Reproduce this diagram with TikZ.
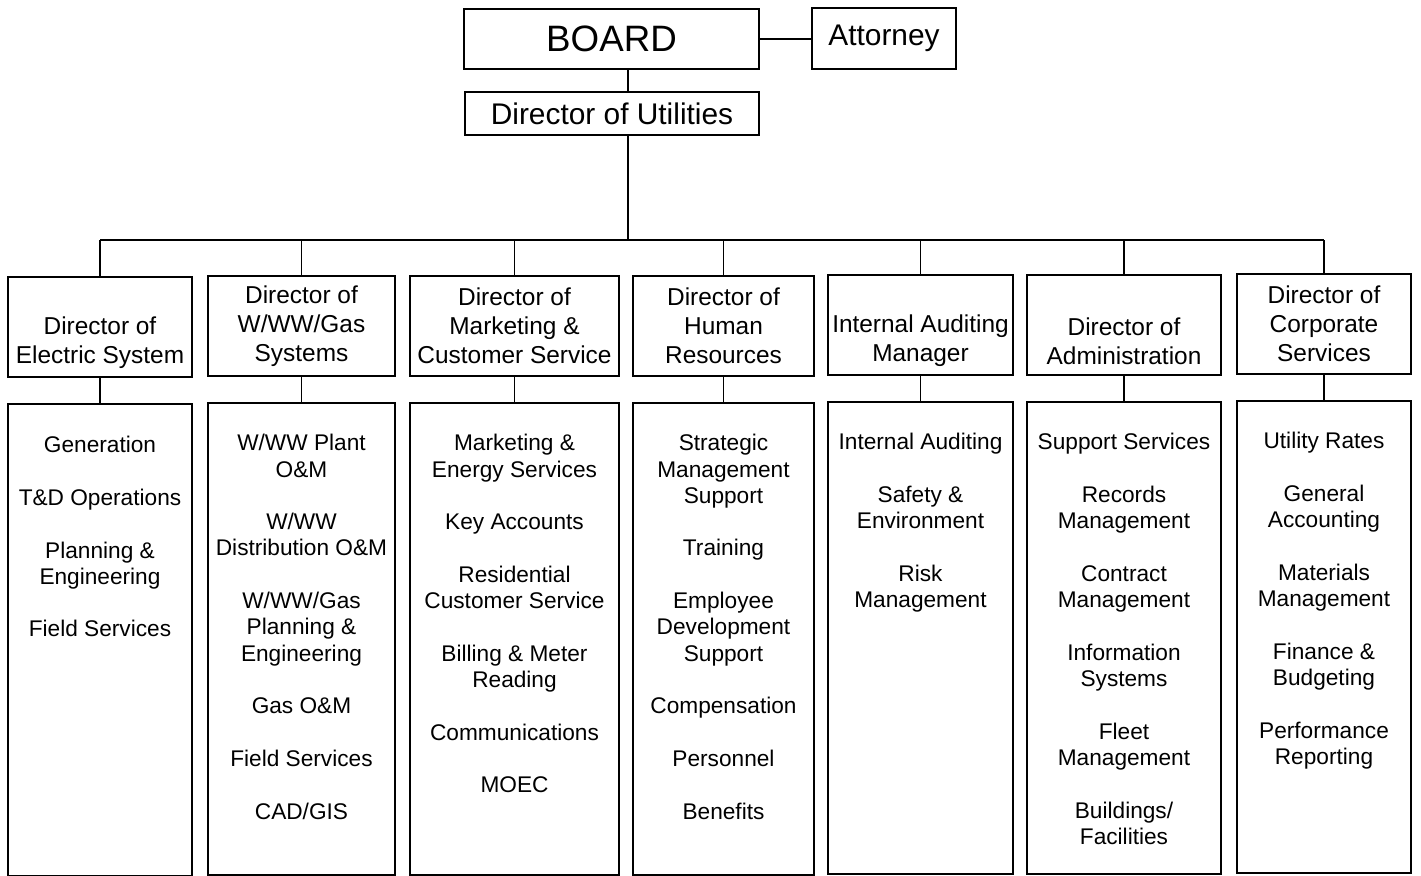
\documentclass[tikz,border=0pt]{standalone}
\usepackage{fontspec}
\setmainfont{Liberation Sans}
\usetikzlibrary{calc,positioning}

\tikzset{
  box/.style={draw, line width=1.1pt, inner sep=0pt, align=center},
  dirbox/.style={box, minimum height=2cm, font=\fontsize{13.9}{16.5}\selectfont},
  listbox/.style={draw, line width=1.1pt, inner sep=0pt, minimum height=9.44cm},
  listtext/.style={inner sep=0pt, align=center, font=\fontsize{12.9}{14.96}\selectfont},
  link/.style={line width=1.1pt}
}

\begin{document}
\begin{tikzpicture}[x=0.02cm,y=-0.02cm]
		\useasboundingbox (0,0) rectangle (1421,876);
		% top of the chart
		\node[box, minimum width=5.9cm, minimum height=1.2cm, font=\fontsize{20.9}{25}\selectfont] (board) at (611.5,39) {BOARD};
		\node[box, minimum width=2.88cm, minimum height=1.22cm, font=\fontsize{17}{20}\selectfont] (attorney) at (884,38.5) {Attorney};
		\node[box, minimum width=5.88cm, minimum height=0.86cm, font=\fontsize{17}{20}\selectfont] (utilities) at (612,113.5) {Director of Utilities};
		\coordinate (trunk) at (628,240);
		\draw[link] (board.east) -- (board.east -| attorney.west);
		\draw[link] (board.south -| trunk) -- (utilities.north -| trunk);
		\draw[link] (utilities.south -| trunk) -- (trunk);
		% directors
		\node[dirbox, minimum width=3.68cm] (elec) at (100,327) {\strut\\Director of\\Electric System};
		\node[dirbox, minimum width=3.74cm] (wwgas) at (301.5,326) {Director of\\W/WW/Gas\\Systems};
		\node[dirbox, minimum width=4.18cm] (mktg) at (514.5,326) {Director of\\Marketing \&\\Customer Service};
		\node[dirbox, minimum width=3.62cm] (hr) at (723.5,326) {Director of\\Human\\Resources};
		\node[dirbox, minimum width=3.7cm] (audit) at (920.5,325) {\strut\\Internal Auditing\\Manager};
		\node[dirbox, minimum width=3.88cm] (admin) at (1124,325) {\strut\\Director of\\Administration};
		\node[dirbox, minimum width=3.48cm] (corp) at (1324,324) {Director of\\Corporate\\Services};
		\draw[link] (elec |- trunk) -- (corp |- trunk);
		\foreach \d in {elec,wwgas,mktg,hr,audit,admin,corp}
			\draw[link] (\d.north) -- (\d |- trunk);
		% sections under each director
		\node[listbox, minimum width=3.68cm, below=0.5cm of elec] (elecl) {};
		\node[listbox, minimum width=3.74cm, below=0.5cm of wwgas] (wwgasl) {};
		\node[listbox, minimum width=4.18cm, below=0.5cm of mktg] (mktgl) {};
		\node[listbox, minimum width=3.62cm, below=0.5cm of hr] (hrl) {};
		\node[listbox, minimum width=3.7cm, below=0.5cm of audit] (auditl) {};
		\node[listbox, minimum width=3.88cm, below=0.5cm of admin] (adminl) {};
		\node[listbox, minimum width=3.48cm, below=0.5cm of corp] (corpl) {};
		\foreach \d in {elec,wwgas,mktg,hr,audit,admin,corp}
			\draw[link] (\d.south) -- (\d l.north);
		\node[listtext, below=0.66cm of elecl.north] (elect) {Generation\\[15pt]T\&D Operations\\[15pt]Planning \&\\Engineering\\[15pt]Field Services};
		\node[listtext, below=0.64cm of wwgasl.north] (wwgast) {W/WW Plant\\O\&M\\[15pt]W/WW\\Distribution O\&M\\[15pt]W/WW/Gas\\Planning \&\\Engineering\\[15pt]Gas O\&M\\[15pt]Field Services\\[15pt]CAD/GIS};
		\node[listtext, below=0.64cm of mktgl.north] (mktgt) {Marketing \&\\Energy Services\\[15pt]Key Accounts\\[15pt]Residential\\Customer Service\\[15pt]Billing \& Meter\\Reading\\[15pt]Communications\\[15pt]MOEC};
		\node[listtext, below=0.64cm of hrl.north] (hrt) {Strategic\\Management\\Support\\[15pt]Training\\[15pt]Employee\\Development\\Support\\[15pt]Compensation\\[15pt]Personnel\\[15pt]Benefits};
		\node[listtext, below=0.64cm of auditl.north] (auditt) {Internal Auditing\\[15pt]Safety \&\\Environment\\[15pt]Risk\\Management};
		\node[listtext, below=0.64cm of adminl.north] (admint) {Support Services\\[15pt]Records\\Management\\[15pt]Contract\\Management\\[15pt]Information\\Systems\\[15pt]Fleet\\Management\\[15pt]Buildings/\\Facilities};
		\node[listtext, below=0.64cm of corpl.north] (corpt) {Utility Rates\\[15pt]General\\Accounting\\[15pt]Materials\\Management\\[15pt]Finance \&\\Budgeting\\[15pt]Performance\\Reporting};
\end{tikzpicture}
\end{document}
